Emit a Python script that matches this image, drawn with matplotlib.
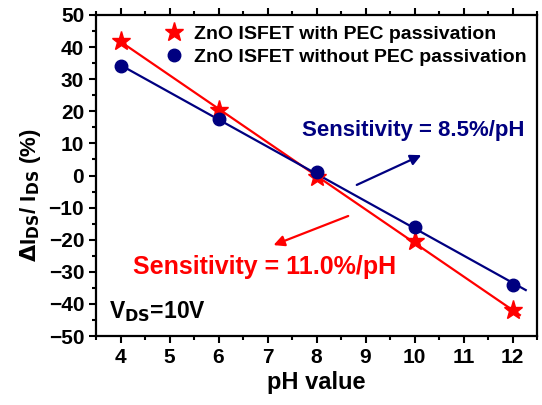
import numpy as np
import matplotlib
matplotlib.use('Agg')
import matplotlib.pyplot as plt
from matplotlib.ticker import MultipleLocator

plt.rcParams['font.family'] = ['Liberation Sans', 'DejaVu Sans']
plt.rcParams['font.weight'] = 'bold'
plt.rcParams['mathtext.default'] = 'bf'

# pH response of the ZnO ISFETs
ph = [4, 6, 8, 10, 12]
with_pec = [42, 20.5, -0.5, -20.5, -42]
without_pec = [34, 17.5, 1, -16, -34]

red = '#ff0000'
blue = '#000080'

fig = plt.figure(figsize=(5.42, 4.05), dpi=100)
ax = fig.add_axes([96 / 542, 1 - 336 / 405, 441 / 542, 321 / 405])

# linear fits
p_red = np.polyfit(ph, with_pec, 1)
p_blue = np.polyfit(ph, without_pec, 1)
xr = np.array([4, 12.15])
xb = np.array([4, 12.27])
ax.plot(xr, np.polyval(p_red, xr), color=red, lw=1.6, zorder=2)
ax.plot(xb, np.polyval(p_blue, xb), color=blue, lw=1.6, zorder=2)

ax.plot(ph, with_pec, '*', color=red, ms=14, ls='none', zorder=3,
        label='ZnO ISFET with PEC passivation')
ax.plot(ph, without_pec, 'o', color=blue, ms=9, ls='none', zorder=3,
        label='ZnO ISFET without PEC passivation')

leg = ax.legend(loc='upper right', frameon=False, fontsize=14,
                handletextpad=0.4, labelspacing=0.25, borderaxespad=0.15,
                handlelength=1.2, bbox_to_anchor=(1.0, 1.0))

# sensitivity annotations
ax.annotate('', xy=(10.19, 6.7), xytext=(8.77, -3.3),
            arrowprops=dict(arrowstyle='-|>', color=blue, lw=1.6,
                            mutation_scale=16))
ax.annotate('', xy=(7.07, -22.0), xytext=(8.70, -12.3),
            arrowprops=dict(arrowstyle='-|>', color=red, lw=1.6,
                            mutation_scale=16))
ax.text(7.70, 13.9, 'Sensitivity = 8.5%/pH', color=blue, fontsize=16,
        fontweight='bold', va='center', ha='left')
ax.text(4.25, -28.5, 'Sensitivity = 11.0%/pH', color=red, fontsize=18,
        fontweight='bold', va='center', ha='left')
ax.text(3.76, -42.5, r'V$_{\mathbf{DS}}$=10V', color='black', fontsize=16.5,
        fontweight='bold', va='center', ha='left')

ax.set_xlim(3.5, 12.5)
ax.set_ylim(-50, 50)
ax.xaxis.set_major_locator(MultipleLocator(1))
ax.xaxis.set_minor_locator(MultipleLocator(0.5))
ax.yaxis.set_major_locator(MultipleLocator(10))
ax.yaxis.set_minor_locator(MultipleLocator(5))
ax.tick_params(which='both', direction='out', top=True, right=False, width=1.5)
ax.tick_params(which='major', length=5, labelsize=15)
ax.tick_params(which='minor', length=3)
for lab in ax.get_xticklabels() + ax.get_yticklabels():
    lab.set_fontweight('bold')
for sp in ax.spines.values():
    sp.set_linewidth(1.6)

ax.set_xlabel('pH value', fontsize=17, fontweight='bold', labelpad=3)
ax.set_ylabel(r'$\Delta$I$_{\mathbf{DS}}$/ I$_{\mathbf{DS}}$ (%)', fontsize=16,
              fontweight='bold')
ax.yaxis.set_label_coords(-0.12, 0.44)

fig.savefig('out.png', dpi=100)
